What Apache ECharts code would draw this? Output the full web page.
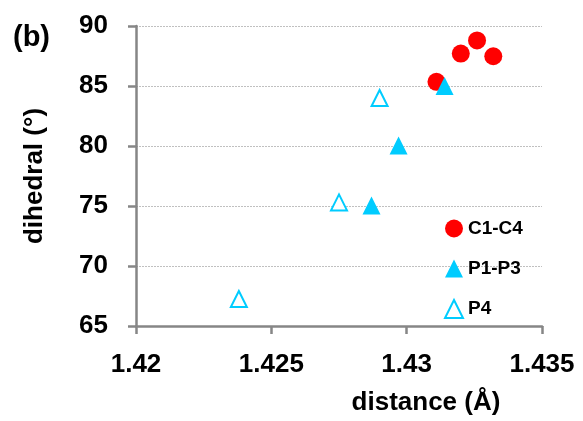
<!DOCTYPE html>
<html>
<head>
<meta charset="utf-8">
<script src="https://cdn.jsdelivr.net/npm/echarts@6/dist/echarts.min.js"></script>
<style>html,body{margin:0;padding:0;background:#fff}#c{width:583px;height:421px}</style>
</head>
<body>
<div id="c"></div>
<script>
const xTicks = [1.42, 1.425, 1.43, 1.435];
const yTicks = [65, 70, 75, 80, 85, 90];
const c1c4 = [[1.4311, 85.35], [1.4320, 87.7], [1.4326, 88.8], [1.4332, 87.48]];
const p1p3 = [[1.4314, 85.0], [1.4297, 80.05], [1.4287, 75.05]];
const p4 = [[1.4290, 84.0], [1.4275, 75.3], [1.4238, 67.25]];
const seriesNames = ['C1-C4', 'P1-P3', 'P4'];

const FONT = 'Liberation Sans';
const chart = echarts.init(document.getElementById('c'), null, {renderer: 'canvas'});
chart.setOption({
  animation: false,
  backgroundColor: '#ffffff',
  textStyle: {fontFamily: FONT},
  title: {
    text: '(b)', left: 8, top: 18,
    textStyle: {fontFamily: FONT, fontWeight: 'bold', fontSize: 29, color: '#000'}
  },
  grid: {left: 136, right: 41, top: 26, bottom: 90, containLabel: false},
  legend: {
    orient: 'vertical', left: 439, top: 214,
    itemWidth: 18, itemHeight: 18, itemGap: 21,
    textStyle: {fontFamily: FONT, fontWeight: 'bold', fontSize: 19, color: '#000', lineHeight: 18},
    data: seriesNames
  },
  xAxis: {
    type: 'value', min: xTicks[0], max: xTicks[xTicks.length - 1], interval: 0.005,
    name: 'distance (Å)', nameLocation: 'middle', nameGap: 64,
    nameTextStyle: {fontFamily: FONT, fontWeight: 'bold', fontSize: 26, color: '#000', padding: [0, 0, 0, 174]},
    axisLine: {show: true, onZero: false, lineStyle: {color: '#868686', width: 2.5}},
    axisTick: {show: true, inside: false, length: 8, lineStyle: {color: '#868686', width: 2.5}},
    splitLine: {show: false},
    axisLabel: {
      margin: 26, fontFamily: FONT, fontWeight: 'bold', fontSize: 26, color: '#000',
      formatter: v => { const t = xTicks.find(x => Math.abs(x - v) < 1e-9); return t !== undefined ? String(t) : ''; }
    }
  },
  yAxis: {
    type: 'value', min: yTicks[0], max: yTicks[yTicks.length - 1], interval: 5,
    name: 'dihedral (°)', nameLocation: 'middle', nameGap: 88, nameRotate: 90,
    nameTextStyle: {fontFamily: FONT, fontWeight: 'bold', fontSize: 26, color: '#000'},
    axisLine: {show: true, onZero: false, lineStyle: {color: '#868686', width: 2.5}},
    axisTick: {show: true, inside: false, length: 8, lineStyle: {color: '#868686', width: 2.5}},
    splitLine: {show: true, lineStyle: {color: '#c0c0c0', width: 1, type: [2, 1]}},
    axisLabel: {margin: 28, fontFamily: FONT, fontWeight: 'bold', fontSize: 26, color: '#000'}
  },
  series: [
    {name: seriesNames[0], type: 'scatter', data: c1c4, symbol: 'circle', symbolSize: 18,
     itemStyle: {color: '#ff0000', opacity: 1}, z: 2},
    {name: seriesNames[1], type: 'scatter', data: p1p3, symbol: 'triangle', symbolSize: 18,
     itemStyle: {color: '#00ccff', opacity: 1}, z: 3},
    {name: seriesNames[2], type: 'scatter', data: p4, symbol: 'triangle', symbolSize: [16, 16],
     itemStyle: {color: '#ffffff', borderColor: '#00ccff', borderWidth: 2, opacity: 1}, z: 3}
  ]
});
</script>
</body>
</html>
